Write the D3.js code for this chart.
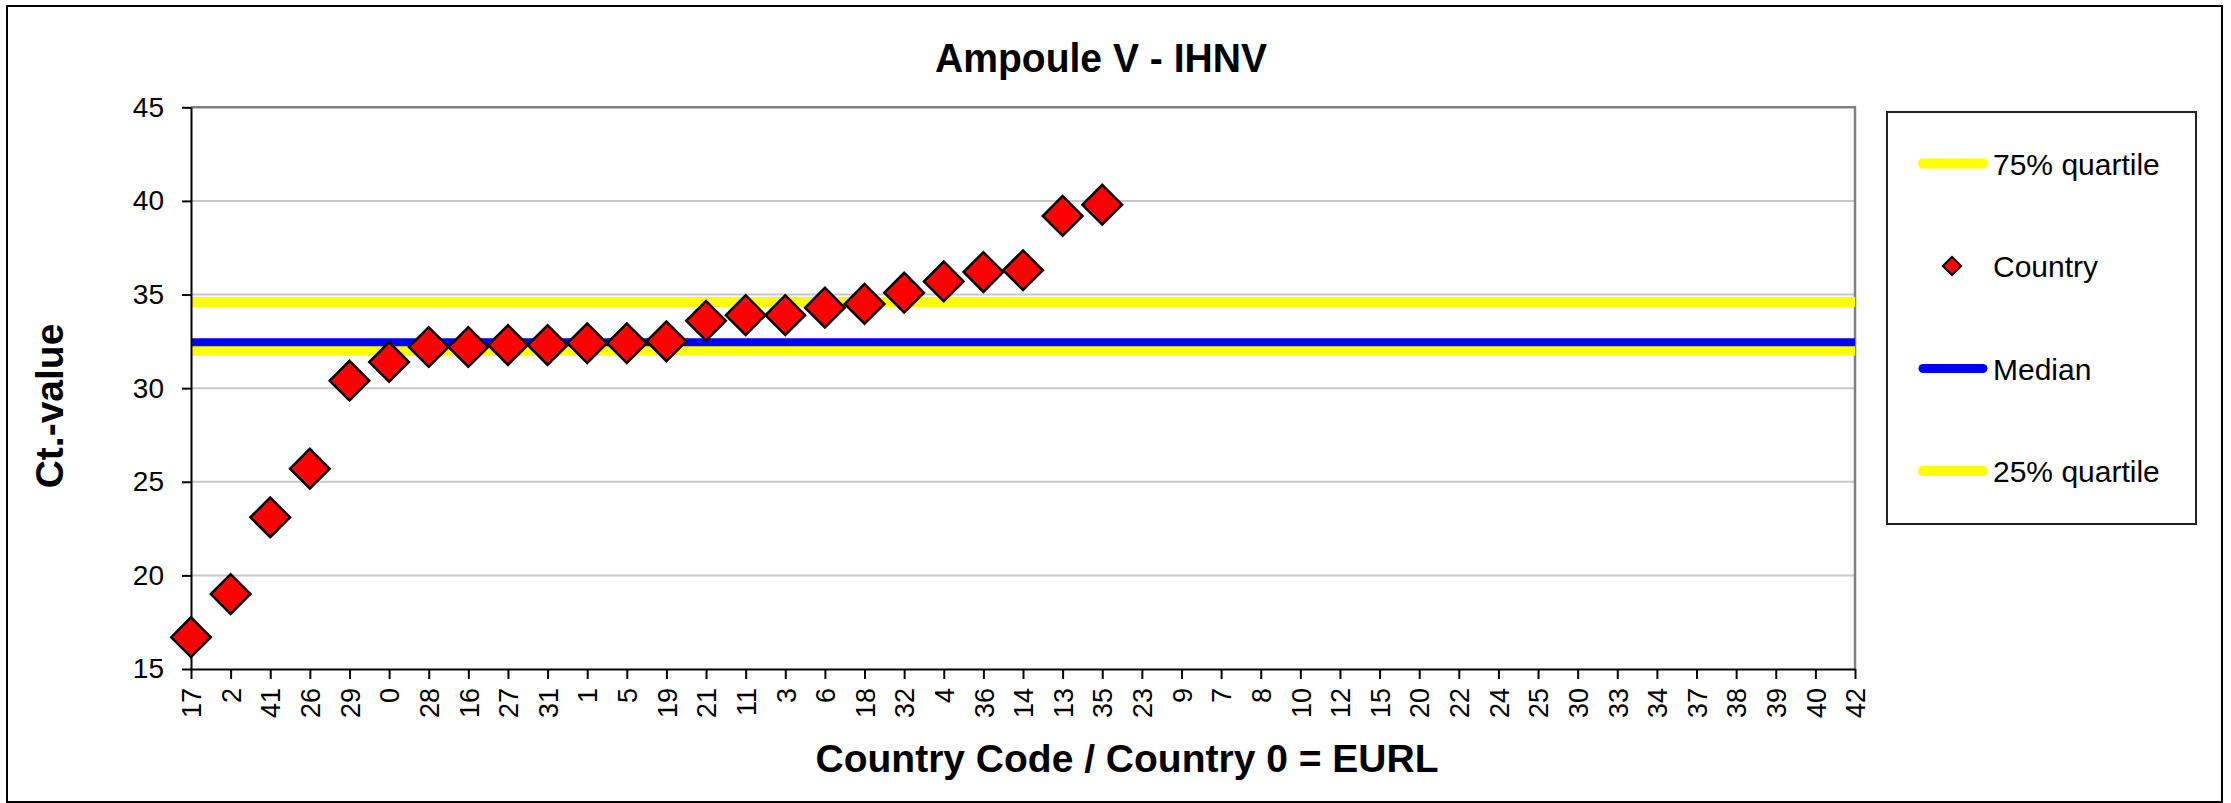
<!DOCTYPE html>
<html>
<head>
<meta charset="utf-8">
<script src="https://cdn.jsdelivr.net/npm/d3@7"></script>
<style>
  body { margin: 0; background: #fff; }
  svg { display: block; font-family: "Liberation Sans", Arial, sans-serif; }
</style>
</head>
<body>
<div id="chart"></div>
<script>
// ============================
// Data
// ============================

const codes = ["17", "2", "41", "26", "29", "0", "28", "16", "27", "31", "1", "5", "19", "21", "11", "3",
               "6", "18", "32", "4", "36", "14", "13", "35", "23", "9", "7", "8", "10", "12", "15", "20",
               "22", "24", "25", "30", "33", "34", "37", "38", "39", "40", "42"];

// Ct values per country (countries without a result are left empty)
const ctValues = [16.7, 19.0, 23.1, 25.7, 30.4, 31.4, 32.2, 32.2, 32.3, 32.3, 32.4, 32.4, 32.5, 33.6, 33.9, 33.9,
                  34.3, 34.5, 35.1, 35.7, 36.2, 36.3, 39.2, 39.8];

const quartile75 = 34.6;
const median = 32.45;
const quartile25 = 32.0;

const yTicks = [15, 20, 25, 30, 35, 40, 45];

const legendLabels = ["75% quartile", "Country", "Median", "25% quartile"];

// ============================
// Intial setup
// ============================

const width = 2231;
const height = 803;
const plot = {left: 191, right: 1855, top: 107.3, bottom: 669};

const colors = {quart: "#ffff00", median: "#0000ff", marker: "#ff0000"};

const svg = d3.select("#chart").append("svg")
  .attr("width", width)
  .attr("height", height)
  .attr("viewBox", [0, 0, width, height]);

// outer frame
svg.append("rect")
  .attr("x", 7).attr("y", 6)
  .attr("width", 2215).attr("height", 796)
  .attr("fill", "#fff")
  .attr("stroke", "#000")
  .attr("stroke-width", 2);

const xscale = d3.scalePoint().domain(codes).range([plot.left, plot.right]);
const yscale = d3.scaleLinear().domain([15, 45]).range([plot.bottom, plot.top]);

const points = codes.map((c, i) => ({code: c, value: ctValues[i]}))
  .filter(d => d.value !== undefined);

// ============================
// Grid and frame
// ============================

svg.append("g")
  .selectAll("line")
  .data(yTicks.filter(t => t > 15 && t < 45))
  .join("line")
  .attr("x1", plot.left).attr("x2", plot.right)
  .attr("y1", d => yscale(d)).attr("y2", d => yscale(d))
  .attr("stroke", "#c8c8c8")
  .attr("stroke-width", 2);

// top + right border of plot area (gray)
svg.append("path")
  .attr("d", `M${plot.left},${yscale(45)}H${plot.right}V${yscale(15)}`)
  .attr("fill", "none")
  .attr("stroke", "#808080")
  .attr("stroke-width", 2.5);

// ============================
// Quartile / median lines
// ============================

const refLines = [
  {v: quartile75, color: colors.quart, w: 10},
  {v: quartile25, color: colors.quart, w: 10},
  {v: median, color: colors.median, w: 8}
];

svg.append("g")
  .selectAll("line")
  .data(refLines)
  .join("line")
  .attr("x1", plot.left).attr("x2", plot.right)
  .attr("y1", d => yscale(d.v)).attr("y2", d => yscale(d.v))
  .attr("stroke", d => d.color)
  .attr("stroke-width", d => d.w);

// ============================
// Axes
// ============================

const yAxis = svg.append("g")
  .attr("transform", `translate(${plot.left},0)`)
  .call(d3.axisLeft(yscale).tickValues(yTicks).tickSize(9).tickSizeOuter(0).tickPadding(18));

yAxis.selectAll("text").attr("font-size", 28).attr("fill", "#000").attr("font-family", null);

const xAxis = svg.append("g")
  .attr("transform", `translate(0,${plot.bottom})`)
  .call(d3.axisBottom(xscale).tickSize(10).tickSizeOuter(0));

xAxis.selectAll("text")
  .attr("font-size", 27)
  .attr("fill", "#000")
  .attr("font-family", null)
  .attr("text-anchor", "end")
  .attr("y", 0)
  .attr("dy", "0.36em")
  .attr("transform", "translate(0,19) rotate(-90)");

svg.selectAll(".domain, .tick line")
  .attr("stroke", "#000")
  .attr("stroke-width", 2);

// ============================
// Markers
// ============================

const diamond = d3.symbol(d3.symbolSquare, 28 * 28);

svg.append("g")
  .selectAll("path")
  .data(points)
  .join("path")
  .attr("d", diamond)
  .attr("transform", d => `translate(${xscale(d.code)},${yscale(d.value)}) rotate(45)`)
  .attr("fill", colors.marker)
  .attr("stroke", "#000")
  .attr("stroke-width", 2.5);

// ============================
// Titles
// ============================

svg.append("text")
  .attr("x", 1101).attr("y", 72)
  .attr("text-anchor", "middle")
  .attr("font-size", 40)
  .attr("font-weight", "bold")
  .attr("textLength", 332)
  .attr("lengthAdjust", "spacingAndGlyphs")
  .text("Ampoule V - IHNV");

svg.append("text")
  .attr("x", 1127).attr("y", 772)
  .attr("text-anchor", "middle")
  .attr("font-size", 39)
  .attr("font-weight", "bold")
  .text("Country Code / Country 0 = EURL");

svg.append("text")
  .attr("transform", "translate(63,406) rotate(-90)")
  .attr("text-anchor", "middle")
  .attr("font-size", 39)
  .attr("font-weight", "bold")
  .text("Ct.-value");

// ============================
// Legend
// ============================

const legend = svg.append("g");

legend.append("rect")
  .attr("x", 1887).attr("y", 112)
  .attr("width", 309).attr("height", 412)
  .attr("fill", "#fff")
  .attr("stroke", "#222")
  .attr("stroke-width", 2);

const legendRows = legend.selectAll("g")
  .data(legendLabels)
  .join("g")
  .attr("transform", (d, i) => `translate(0,${163.5 + i * 102.5})`);

legendRows.filter(d => d !== "Country")
  .append("line")
  .attr("x1", 1923).attr("x2", 1983)
  .attr("stroke", d => d === "Median" ? colors.median : colors.quart)
  .attr("stroke-width", d => d === "Median" ? 9 : 10)
  .attr("stroke-linecap", "round");

legendRows.filter(d => d === "Country")
  .append("path")
  .attr("d", d3.symbol(d3.symbolSquare, 13 * 13))
  .attr("transform", "translate(1952,0) rotate(45)")
  .attr("fill", colors.marker)
  .attr("stroke", "#000")
  .attr("stroke-width", 2);

legendRows.append("text")
  .attr("x", 1993)
  .attr("y", 11)
  .attr("font-size", 30)
  .text(d => d);
</script>
</body>
</html>
